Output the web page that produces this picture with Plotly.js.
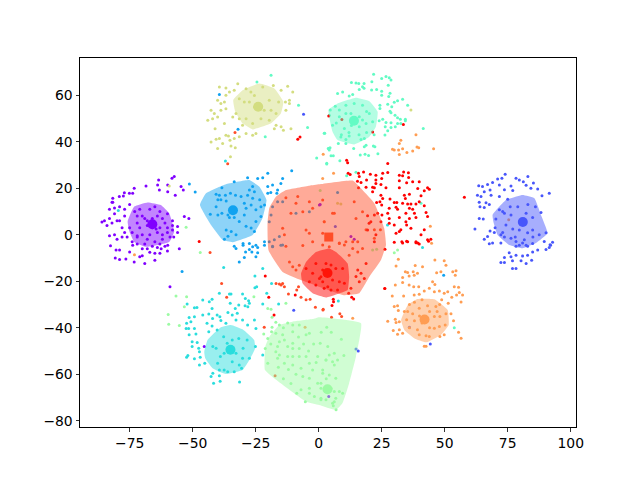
<!DOCTYPE html>
<html><head><meta charset="utf-8">
<script src="https://cdn.plot.ly/plotly-3.0.1.min.js"></script>
<style>html,body{margin:0;padding:0;background:#fff}</style></head><body>
<div id="chart" style="width:640px;height:480px"></div>
<script>
const colors=['#8000ff','#4856fb','#10a2f0','#2adddd','#62fbc4','#9cfba4','#d4dd80','#ff9d53','#ff4d28','#ff0000'];
const hullAlpha=0.48;
const centers=[[-66,4.5],[81,5.5],[-34,10.5],[-35,-49.5],[14,49],[3.5,-66.5],[-24,55],[42,-36.5],[4,-1],[3.5,-16.5]];
const hullPurple=[[-75.8,5.7],[-73.2,12.1],[-67.9,13.9],[-62.6,12.8],[-59.3,9.2],[-57.3,1.4],[-59.3,-3.1],[-68.5,-5.2],[-73.2,-3.1],[-75.1,1.4]];
const hullBlue=[[69,8.5],[74.3,14.9],[80.9,17.1],[85.6,15.7],[88.2,8.5],[90.8,0.6],[86.2,-3.6],[80.9,-5.8],[75.6,-4.4],[71,-0.1],[69.3,5.7]];
const hullSky=[[-47.1,12.8],[-44.7,17.8],[-36.8,21.7],[-27.5,23.5],[-23.6,20.7],[-20.7,14.9],[-22.3,7.1],[-26.2,-0.1],[-34.2,-3.2],[-38.1,-2.2],[-42.7,4.2]];
const hullCyan=[[-45.4,-50.3],[-44.1,-45.3],[-38.8,-39.8],[-34.8,-38.8],[-30.2,-40.7],[-25.6,-45.3],[-25.2,-48.8],[-27.5,-53.9],[-30.2,-58.2],[-36.8,-59.9],[-42.1,-57.4],[-45,-53.1]];
const hullAqua=[[3.9,53.6],[7.5,56.4],[14.8,58.9],[20.1,57.4],[23.4,52.9],[22.7,46.4],[20.1,42.1],[14.1,38.8],[7.5,40.7],[5.5,44.3]];
const hullGreen=[[-21.2,-48.2],[-19.6,-43.9],[-15.6,-38.8],[-10.4,-37.4],[-2.4,-36.3],[0.2,-35.5],[16.8,-38.1],[14.8,-52.4],[12.1,-63.9],[9.5,-72.4],[6.9,-75.3],[0.2,-73.2],[-5,-71.8],[-16.9,-62.4],[-21.3,-58.2]];
const hullKhaki=[[-33.9,57.9],[-30.2,62.1],[-23.6,65],[-17.6,62.9],[-14,57.2],[-15,52.1],[-18.9,47.9],[-26.2,45.3],[-30.2,47.9],[-33.1,52.9]];
const hullOrange=[[32.7,-36.7],[35.3,-30.3],[39.2,-27.7],[45.9,-27.8],[51.2,-32.4],[51.6,-38.8],[48.5,-43.1],[42.6,-46.3],[37.9,-44.5],[34,-41]];
const hullCoral=[[-20.3,4.9],[-19.6,11.4],[-16.9,16.4],[-13,19.2],[-3.7,21.1],[0.2,21.7],[13.5,23.3],[17.4,19.2],[22.1,13.5],[26,2.8],[26.7,-4.4],[24.7,-10.9],[20.1,-18.1],[16.1,-25.2],[10,-26],[-7,-19.5],[-14.3,-16],[-19.9,-6.7]];
const hullRed=[[-7,-16.7],[-5,-11.7],[-1.1,-7.4],[4.2,-5.9],[6.9,-7.4],[11.5,-12.4],[12.1,-18.1],[11.5,-23.8],[6.9,-25.7],[2.9,-27],[-2.4,-25.2],[-6.4,-20.9]];
const ptsPurple=[[-57.3,25],[-58.2,24.3],[-63.5,23.5],[-63.9,21.4],[-63.2,19.2],[-59.9,21.4],[-59.9,18.5],[-54.6,20.7],[-53.7,19.2],[-56.9,17],[-68.5,21],[-73.2,20],[-73.8,17.8],[-75.1,17.8],[-77.1,18],[-79.1,16.4],[-77.5,16.6],[-81.7,15.7],[-81.7,14],[-82,14],[-83,11],[-81,11.5],[-79,12],[-77,11],[-75,13],[-73,10],[-77,8],[-79,6],[-81,9],[-83,7],[-85,6],[-86,5.5],[-84,4],[-82,5],[-80,6],[-78,3],[-77,1],[-75,3],[-74,1],[-76,-1],[-78,-1],[-81,0],[-83,-0.5],[-80,-2],[-74,-3],[-72,-0.5],[-70,8],[-67,11],[-65,12],[-63,10],[-66,7],[-64,8],[-62,7],[-60,9],[-72,5],[-71,3],[-68,4],[-66,3],[-65,5],[-63,3],[-60,3],[-58,4],[-60,1],[-62,0],[-64,1],[-67,0],[-70,0],[-72,-1],[-68,-2],[-65,-3],[-62,-2],[-59,-1],[-66,-5],[-64,-5.5],[-70,-6],[-82.6,-4.8],[-80.4,-6.6],[-79,-6.6],[-80.7,-10],[-79,-10.7],[-76.5,-10.5],[-75,-7.4],[-73.8,-4.5],[-71,-9.5],[-73.2,-11.7],[-69,-12.4],[-65,-11],[-65,-8],[-63,-8],[-62.5,-6],[-59.9,-4.5],[-55.3,-6],[-53.3,7.8],[-51.5,7],[-59,-22.4],[-45.4,-48.1],[0.3,12.8],[12.8,-0.8],[14.1,-2],[0.6,13],[4,-69.6],[-72,-4],[-68,-6],[-69,-4],[-63,-4],[-61,-5],[-67,-7.5],[-70,-9],[-60,-7],[-58,2],[-57.5,-1],[-58,6],[-61,5],[-69,7],[-72,8],[-71,11],[-56,1],[-56,3.5],[-67,5],[-68,6],[-64.5,2.5]];
const ptsBlue=[[63.5,21.1],[65,20.7],[67,21.6],[69,22.5],[71,24],[72.7,24.3],[74,26],[78.3,24.3],[79.6,23.5],[83,25],[81.2,22.8],[85.2,22.2],[82.3,21.3],[84.2,20],[86.9,19.7],[88.6,16.8],[91.5,17.8],[76.3,21],[71.7,21.4],[73.7,19.3],[77,19],[68,19.2],[65.7,18.5],[63,17],[64.4,16.4],[68.4,17],[71.7,16.4],[75,15.2],[63.7,14],[66.4,13.7],[67.7,13],[64,12],[65.7,11.7],[71.7,10.7],[73,10],[63.7,7],[65.3,6.8],[62,2.5],[68,1.6],[69.7,1],[67,-0.8],[65.7,-2],[70.3,6.8],[73.7,9.2],[76.3,8.5],[82.3,9.2],[84.9,7.4],[79.6,2],[77,2.5],[74.3,4.2],[72.3,0],[84.9,2],[82.9,0.8],[88.2,9.5],[90.2,0.8],[87.5,0],[81.6,-2.2],[78.3,-2.9],[80.9,-3.6],[76.3,-1.5],[73.7,-1],[67.7,-3.9],[69,-3.6],[72.3,-3.6],[89.5,-2.9],[92.8,-3.2],[91.8,-4.3],[78.3,-5],[82.9,-5],[79.6,-4.5],[82.3,-4.5],[84.9,-3.8],[92,-4.5],[90.2,-6.4],[91.5,-5.5],[86.9,-6.6],[84.9,-7.4],[75.6,-7.8],[78.3,-8.8],[80.9,-9.2],[82.9,-8.8],[76.3,-9.5],[73.7,-9.8],[72.3,-12],[73.7,-12],[76.9,-11.2],[80.3,-11.2],[82.3,-12.4],[84.5,-11],[76.9,-14.5],[78.3,-14.5],[-6,51.8],[-9.9,-32.5],[15.7,-50],[14.8,-49.1],[44.3,-47],[36,-39.8],[6.6,3.5],[79,12],[83,13],[76,12],[86,12],[85,-1],[70,3],[73,1],[78,-1]];
const ptsSky=[[-33.5,22.8],[-28.2,24.5],[-24.2,24.2],[-22.2,24.5],[-20.2,26.4],[-14.3,24.2],[-18.3,21.4],[-15,22],[-10.7,27.5],[-20.2,20.7],[-16.3,19.2],[-19,18.2],[-20.2,17.8],[-16.6,17.8],[-38.4,20.2],[-40.7,17.4],[-26.2,20.7],[-27.5,19.2],[-25.5,18.5],[-28.2,17],[-35,17.8],[-33,17],[-30.8,16.4],[-37,17],[-39.4,17],[-38.8,15],[-40,15],[-36.7,14.5],[-23.4,15],[-26.8,12.8],[-29.5,13.5],[-28.8,11.4],[-26.2,15.7],[-22.9,12],[-24.9,10.7],[-40.7,12],[-43,8.8],[-40,8.5],[-38.4,9.2],[-36,8.5],[-35.4,7.4],[-33.5,7.4],[-29.5,8.5],[-22.9,7.8],[-24.9,5.7],[-31.5,5.7],[-28.8,3.6],[-26.8,2.9],[-36.7,2],[-34.7,1.4],[-32.8,0],[-37.4,-2],[-36,-0.7],[-25.5,1.4],[-21.5,12.8],[-33.5,-5],[-30,-4.5],[-32.8,-5.9],[-30,-3.8],[-27.5,-3.8],[-26.2,-5.2],[-24.9,-4.5],[-21.5,-4.5],[-29,-7.4],[-26.5,-7.4],[-24.2,-7.8],[-27.5,-6.4],[-31.5,-11.7],[-29.5,-9.8],[-24.9,-9.5],[-24.2,-5.5],[-21.5,-3],[-51.3,21.8],[-49,18.4],[-39.4,60.3],[-32,45.4],[-54.2,-15.8],[49.6,-17.4],[-16.3,14.2],[-14.3,14.2],[-18.3,12],[-18.9,8.5],[-19.6,5.6],[-15.6,-0.8],[-17.6,-2.2],[-14.3,-4.4],[-18.3,-5],[-15,-4.5],[-18.3,-5.2],[-19.6,-3],[-9,9.2],[-3.7,9.9],[7.5,18.2]];
const ptsCyan=[[-37.7,-14.1],[-25.3,-17.8],[-22.2,-14.5],[-25.3,-22.8],[-24.6,-22.4],[-18.7,-21],[-20.6,-25.2],[-22.2,-29.8],[-15.9,-29.8],[-34.8,-25.5],[-35.4,-25.5],[-39.4,-25.2],[-30.2,-25.5],[-29.1,-27.4],[-27.8,-28.4],[-42.3,-27.8],[-43.4,-28.8],[-46,-28.1],[-52.2,-29.8],[-49.3,-31.4],[-48.3,-31.3],[-35.1,-29.5],[-33.1,-31.7],[-31.7,-30.2],[-28.1,-31],[-29.2,-30.5],[-27.5,-29.5],[-36,-33.5],[-34.3,-34.5],[-32.3,-33.8],[-42.3,-31.7],[-40.3,-34.5],[-43.6,-34.1],[-46,-34.5],[-49.3,-35.3],[-51.4,-35.6],[-42.1,-36],[-39.2,-35.3],[-38.8,-36.9],[-36.8,-38.1],[-32.8,-36.7],[-30.2,-36.7],[-28.2,-38.8],[-25.5,-36.7],[-24.9,-40.3],[-52.4,-38.1],[-50.7,-37.4],[-51.6,-40.3],[-52.6,-40.3],[-49.3,-40.3],[-48.7,-42.7],[-51.4,-43],[-50.2,-46],[-48.2,-46.4],[-50.2,-48.1],[-47.6,-48.8],[-47.3,-50.3],[-51.9,-52],[-52.4,-52.7],[-49.3,-53.4],[-47,-52.7],[-47.3,-56],[-45.2,-55.3],[-43.6,-41.7],[-44.3,-38.1],[-42.3,-39.3],[-40.3,-41],[-37.7,-43.9],[-36.3,-46.7],[-34.3,-45.3],[-31.7,-44.6],[-28.4,-45.3],[-30,-48.8],[-32.8,-51],[-37.5,-51],[-40.7,-48.8],[-42,-48.1],[-39,-52.4],[-34.3,-54.6],[-30.2,-53.1],[-27.5,-53.1],[-31.5,-56],[-30.6,-57.4],[-33.5,-58.9],[-37.5,-58.2],[-36.1,-58.9],[-40.1,-55.3],[-39.4,-58.2],[-42,-59.6],[-42.7,-61],[-39.4,-60.7],[-41.7,-63.9],[-39.1,-63],[-31.4,-63.3],[-25.1,-48.1],[-22.2,-51.7],[-79.5,10.4],[7.8,-28.5],[-37,31.7],[27.3,4.2],[41.2,-5.5]];
const ptsAqua=[[21.8,69],[25,67.2],[26.7,68],[28,67.5],[28.7,66.5],[27.6,64.3],[13,65.5],[14.8,65.3],[15.9,65],[18,65],[21.1,65.8],[16.1,62.5],[18,63],[17.4,63.6],[21,62.2],[23,62.5],[25,61.7],[25,60],[28.3,60.8],[27.8,59.4],[9.5,61.4],[7.5,60.7],[12.1,59.7],[13.5,60.3],[33.3,58.3],[31.3,57.6],[30,57],[29,55],[27.4,56.1],[24.3,55.7],[24.3,54.3],[35.3,55.7],[28.3,53.1],[28.7,52.4],[31.3,50.3],[32.4,49.7],[34.4,49.7],[34.4,49],[30.3,51.4],[25.4,49.7],[24,49],[26.7,48.3],[28.7,48.1],[31.3,47.8],[32.6,47.8],[30.4,46.4],[28.7,46.1],[26.4,46.4],[27.4,44.7],[26.3,42.9],[41.5,45.7],[6.6,55.3],[4.6,53.6],[4.2,51.4],[8.2,53.6],[10.8,55.7],[14.1,56.4],[17.4,55.7],[12.8,52.1],[10.8,52.1],[8.2,50.7],[20.1,52.1],[21.4,48.6],[16.1,50.7],[17.4,49.3],[5.5,47.1],[10.2,45.7],[16.1,46.4],[18.8,47.8],[8.8,42],[12.1,42.5],[16.8,41],[18.1,41.4],[10.8,41],[7.8,39.2],[10.8,39.2],[13.9,37.1],[18.1,37.8],[18.8,38.5],[21.7,38.2],[22.3,37.8],[2.2,43.6],[4.5,37.4],[3.8,37.1],[4.2,36.4],[4.9,34],[5.8,34],[16.5,34.3],[18.4,34.6],[19.8,34.1],[23.5,34.8],[8.4,31.8],[3.2,30.4],[14.8,26.9],[11.1,25.4],[-18.9,68.6],[-24.5,65.7],[-8,55.7],[-4.4,46.1],[-21.2,42.1],[2.4,43.6],[4,37.1],[3.2,30.7],[-0.8,33],[53.8,-40],[40.6,13.5],[13,47],[12,44],[16,43],[19,44],[22,43],[7,48],[9,43],[19,53]];
const ptsGreen=[[-47,-7.7],[-52.6,3.2],[-56.6,-26.4],[-52.4,-26.7],[-53.3,-31],[-59.7,-34.3],[-59.5,-38.5],[-55.3,-39.1],[-25.7,-26.7],[-20.2,-31.7],[-18.9,-32.1],[-18.5,-35.5],[-13,-29.5],[-17,-37.7],[-18.5,-39.8],[-18.7,-41.7],[-21.8,-42.7],[-20.2,-44.6],[-21.2,-48.9],[-15.6,-38.8],[-12.3,-38],[-10.3,-38.8],[-7.7,-38.8],[-3.7,-42.4],[-5,-43],[-10.3,-41.7],[-14.3,-43],[-17,-42.4],[-15.6,-46],[-13.6,-45.3],[-10.3,-46.7],[-7.7,-48.9],[-10.3,-48.9],[-12.3,-48.1],[-16.3,-48.1],[-17,-50.3],[-15.6,-51.7],[-12.3,-52.4],[-10.3,-52.4],[-7.7,-52.4],[-5,-52.4],[-0.4,-52.4],[-16.3,-53.1],[-20.2,-55.3],[-13.6,-55.3],[-10.3,-56],[-7,-57.4],[-3.7,-55.3],[-2.4,-58.2],[-6.3,-61],[-3.7,-61.7],[-0.4,-63.9],[0.9,-66],[-7,-66.7],[-3.7,-66],[-8.7,-68.2],[-3.7,-68.2],[-1.7,-69.6],[0.9,-70.3],[-5.3,-71.8],[1.6,-59.6],[2.9,-53.9],[3.6,-48.1],[0.6,-46.7],[4.2,-51.7],[6.2,-51],[2.9,-53.9],[5.5,-54.6],[6.2,-56],[7.5,-53.9],[1.6,-58.2],[6.8,-61.7],[4.2,-60.3],[0.9,-63.9],[4.9,-66],[6.2,-67.4],[8.2,-67.4],[9.5,-68.2],[6.8,-70.3],[2.9,-71],[0.9,-71],[5.5,-72.5],[6.2,-71.8],[5.8,-73.6],[6.9,-75.3],[3.2,-39.8],[30,-7.8],[31.3,-6.6],[0.6,19],[21.4,-6.6],[23,-6.2],[-14,-40],[-8,-44],[-2,-47],[-6,-47],[-12,-58],[-16,-57],[-9,-60],[-4,-50],[1,-42],[9,-45],[5,-42],[-19,-47],[10,-52],[-1,-55],[-11,-64],[-14,-62],[3,-62]];
const ptsKhaki=[[-39.4,63.5],[-36.8,63.1],[-33.5,62.1],[-32.1,64.9],[-35.4,61.4],[-40.1,57.8],[-36.8,60],[-37.4,57.1],[-38.8,56.4],[-42.7,53.5],[-41.4,52.1],[-38.8,53.5],[-36.8,54.2],[-34.1,50.6],[-42.1,49.9],[-44,49.2],[-40.1,50.6],[-37.4,47.8],[-41.1,45.6],[-28.8,62.8],[-26.9,61.4],[-25.5,59.9],[-22.2,63.5],[-18,64.2],[-14.9,62.1],[-12.3,63.9],[-10.3,61.4],[-11.6,57.8],[-13.2,57.1],[-15.9,57.1],[-19.6,57.8],[-31.5,58.5],[-29.5,57.1],[-27.5,57.1],[-25.5,54.9],[-21.6,53.5],[-18.9,53.5],[-16.9,52.1],[-13,53.5],[-11.6,56.4],[-32.8,52.1],[-31.5,49.9],[-28.8,49.9],[-26.2,47.8],[-22.9,49.9],[-19.6,49.2],[-16.9,47.1],[-14.9,46.4],[-14,44.9],[-17.6,45.6],[-11,45.6],[-39.4,41.4],[-36.8,42.8],[-42.7,39.9],[-40.7,41.1],[-38.1,39.2],[-40.1,37.1],[-34.8,38.2],[-33.1,37.4],[-35.2,40.6],[-33.5,41.4],[-31.5,42.1],[-28.8,43.5],[-26.2,42.8],[-24.9,43.5],[-35.8,42.5],[-35,33.5],[-30.2,47.1],[-59.3,20.9],[36.6,53.6],[8.8,13.2],[7.5,13.5]];
const ptsOrange=[[32.6,40.6],[32,39.2],[33.3,37],[31.7,36.4],[29.3,36.8],[30,36.4],[32,34.5],[35,35.4],[37.3,36],[39,37.7],[39.7,37.4],[45.6,37],[38.6,43],[1.8,34.6],[5.9,26.4],[1.6,24.2],[44.3,3.6],[44.8,-3.7],[31.6,-10.6],[30.7,-13.5],[38.3,-13.2],[41.2,-13.8],[49.8,-11.2],[46.1,-10.9],[50.5,-13.1],[34.4,-15.9],[35.3,-16.2],[37.5,-15.9],[39.2,-16.6],[37.9,-17.4],[46.8,-16.4],[48.5,-15.9],[53.2,-15.9],[54.5,-15.5],[54.2,-17.4],[35.9,-17.8],[33.3,-18.4],[33.3,-20.5],[35.9,-21.6],[30.4,-21.6],[37.7,-22.4],[39.7,-22.4],[45.2,-20.2],[46.1,-21.4],[43.9,-23],[41.9,-24.2],[47.9,-24.2],[49.8,-25.2],[51.2,-24.5],[53.8,-22.4],[55.5,-22.6],[55.8,-24.9],[57.1,-25.9],[54.7,-25.9],[52.8,-26.9],[56.5,-28.9],[51.4,-29.5],[48.8,-28],[29.2,-26.4],[33.7,-26.4],[37.9,-25.9],[39.9,-25.6],[45.9,-24.5],[30,-30.9],[31.3,-30.6],[31.6,-32.6],[27.4,-37.2],[30.4,-36.4],[30.7,-37.8],[32,-37.4],[29.6,-41.2],[32,-40.9],[31.3,-42.8],[33.3,-42.4],[34.9,-36.6],[35.3,-33],[37.3,-34],[39.9,-31.6],[43.2,-30.6],[46.5,-30.9],[45.9,-35.2],[48.1,-35.2],[50.5,-34],[52.5,-34],[53.5,-37],[50.2,-38.8],[47.9,-39.5],[45.9,-40.2],[39.2,-40.9],[39.9,-43],[42.6,-43.5],[43.9,-43.8],[48.1,-43.8],[55.5,-41.9],[56.5,-44.5],[41.9,-48],[42.6,-48],[49.8,-43],[-73.1,-8.6],[13.5,-35.9],[75.4,6.4],[-5.4,-39.8],[2.2,5.6],[36,-30],[41,-28],[44,-33],[40,-35],[38,-37],[36,-40],[41,-38],[44,-40],[48,-30],[47,-33],[34,-33],[38,-29]];
const ptsCoral=[[-33.2,44],[-36.1,30.5],[-43.1,-7.6],[-38.5,-21],[-36.5,-26.9],[-21.6,-39.8],[5.1,-35.5],[8.4,-34],[9.1,-35.2],[1.8,-32.1],[-16.9,-21],[-15.6,-21.2],[-14.3,-21],[-13.6,-22.4],[-14.9,-21.6],[-12,-25.5],[-8.7,-23.8],[-8,-22.4],[-7,-26.9],[-5,-28],[-3.4,-27.8],[-1.3,-31.2],[1.7,-32.4],[-13,15.9],[-8.3,16.4],[-3.7,14.2],[-9,13.5],[-2.4,11.4],[-11,9.2],[-6.3,9.9],[2.2,5.6],[-14.3,2.8],[-13.6,0],[-5,2],[-3.7,0.6],[-2.4,-3],[-6.3,-4.6],[-13,-5],[1.6,-4.4],[1.6,14.9],[5.5,9.2],[6.2,9.2],[14.1,14.2],[17.4,9.9],[14.8,7],[1.6,0.6],[8.2,-3.6],[10.2,-4.4],[10.8,-3],[13.5,-3],[22.1,-1.5],[18.8,2.1],[22.1,2.1],[24.5,2.1],[-10.3,-13.8],[-7.7,-13.1],[-11.6,-11.7],[-9,-15.2],[13.5,-5.9],[17.4,-5.9],[15.5,-3],[8.2,-3.8],[4.2,-5.2],[12.1,-8.8],[15.5,-7.4],[26.3,-23.1],[-17.3,-60.7]];
const ptsRed=[[11.1,32],[11.5,31],[27.4,30.6],[11.7,26.4],[12.5,25.9],[15.8,26.4],[17.8,27],[20.5,26],[16.1,25],[22.7,25.6],[25.4,26.4],[27.4,26.8],[22.7,23.5],[15.4,23],[16.8,22.5],[19,23.5],[25,24.2],[24.7,21.6],[22.7,22],[32,25.6],[33.7,27],[35.6,26.6],[33.3,25.4],[35.7,24.6],[32,23.2],[34.9,22.4],[37.3,22.8],[39.9,22.8],[32,20.2],[43.2,20.2],[43.9,19.5],[41.9,18.9],[40.6,16.8],[39.3,19.9],[26.7,20.2],[21.4,20.4],[22.1,20.2],[18.8,20.4],[15.8,20.2],[24.7,17],[25.4,15.6],[21.4,18.5],[24.3,14.2],[23,13.9],[28.3,15.4],[25,12.8],[30,13.8],[31,13.9],[28,11.4],[34,17],[34.4,15.6],[36,17.4],[33.3,13.5],[35.3,13.2],[36.6,13.2],[38.6,13.2],[39.9,14.2],[41.9,12.5],[30.7,11.8],[31.3,10.9],[27.4,9.2],[36,11.4],[37.3,11],[38,9.2],[42.6,9.6],[43.2,7.8],[34.6,9.2],[38.6,7.4],[36,7],[32,7.4],[28,7],[25.1,8.5],[23.4,9.2],[22.1,8.5],[19.4,8.2],[20.7,5.6],[28,4.9],[30,4.2],[34.6,5.6],[34.9,4.2],[36.6,2.8],[32.6,2.1],[32,1.4],[30.7,0.6],[41.9,2.1],[40.6,0],[38.6,-3],[39.3,-3.6],[35.3,-3],[33.3,-3.6],[30,-3.2],[43.2,-2.2],[44.5,-1.9],[19.4,2],[20,4.9],[24.7,5.6],[22.7,0],[33,-3],[34.9,-2.8],[38.6,-3.5],[39.9,-4],[43.6,-2.8],[26.3,-6.2],[22.1,-3],[18.8,-12.4],[15.5,-15.2],[16.8,-16.6],[16.1,-20.2],[18.1,-18.8],[14.8,-18],[12.8,-23],[11.9,-25.2],[13.1,-26.9],[13.9,-27.6],[5.8,-27.8],[5.9,-28.8],[5.3,-30.4],[26.2,-23.1],[2.9,-12.4],[4.9,-13],[6.8,-14.5],[9.5,-14.5],[0.9,-18.1],[1.6,-20.2],[5.5,-19.5],[8.2,-20.2],[10.2,-20.9],[4.9,-23.8],[7.5,-23.8],[2.2,-23],[-5,-14.5],[-2.4,-16.6],[0.3,-18.8],[-3.7,-20.2],[-1.1,-21.6],[3.6,-22.4],[1.6,-15.2],[-1.1,-12.4],[-8.3,41.1],[-7.4,42],[-47.4,-2.9],[-21.2,-17.8],[-19.8,-26.9],[-17.7,-34.5],[-9.3,-25.9],[57.8,16.1],[33.6,47.4],[4,51.1],[9.2,49.5],[21.4,44.2]];
const allPts=[ptsPurple,ptsBlue,ptsSky,ptsCyan,ptsAqua,ptsGreen,ptsKhaki,ptsOrange,ptsCoral,ptsRed];
const allHulls=[hullPurple,hullBlue,hullSky,hullCyan,hullAqua,hullGreen,hullKhaki,hullOrange,hullCoral,hullRed];
const traces=[];
allPts.forEach((p,i)=>traces.push({type:'scatter',mode:'markers',x:p.map(a=>a[0]),y:p.map(a=>a[1]),marker:{color:colors[i],size:3,line:{width:0}},hoverinfo:'skip'}));
centers.forEach((c,i)=>traces.push({type:'scatter',mode:'markers',x:[c[0]],y:[c[1]],marker:{color:colors[i],size:i===8?9:10,symbol:i===8?'square':'circle',line:{width:0}},hoverinfo:'skip'}));
function rgba(h){const n=parseInt(h.slice(1),16);return `rgba(${n>>16},${(n>>8)&255},${n&255},${hullAlpha})`;}
allHulls.forEach((h,i)=>{const q=h.concat([h[0]]);traces.push({type:'scatter',mode:'lines',x:q.map(a=>a[0]),y:q.map(a=>a[1]),fill:'toself',fillcolor:rgba(colors[i]),line:{width:0,color:'rgba(0,0,0,0)',shape:'spline',smoothing:0.35},hoverinfo:'skip'});});
const axisFont={family:'"DejaVu Sans"',size:13.9,color:'#000'};
const layout={width:640,height:480,showlegend:false,paper_bgcolor:'#fff',plot_bgcolor:'#fff',
 margin:{l:80,r:64,t:57.6,b:52.8,pad:0},
 xaxis:{range:[-94.7,102.1],tick0:-75,dtick:25,ticks:'outside',ticklen:3.5,tickwidth:0.8,tickcolor:'#000',showgrid:false,zeroline:false,showline:true,mirror:true,linecolor:'#000',linewidth:1,tickfont:axisFont,automargin:false},
 yaxis:{range:[-82.7,76],tick0:-80,dtick:20,ticks:'outside',ticklen:3.5,tickwidth:0.8,tickcolor:'#000',showgrid:false,zeroline:false,showline:true,mirror:true,linecolor:'#000',linewidth:1,tickfont:axisFont,automargin:false}};
Plotly.newPlot('chart',traces,layout,{staticPlot:true,displayModeBar:false});
</script></body></html>
